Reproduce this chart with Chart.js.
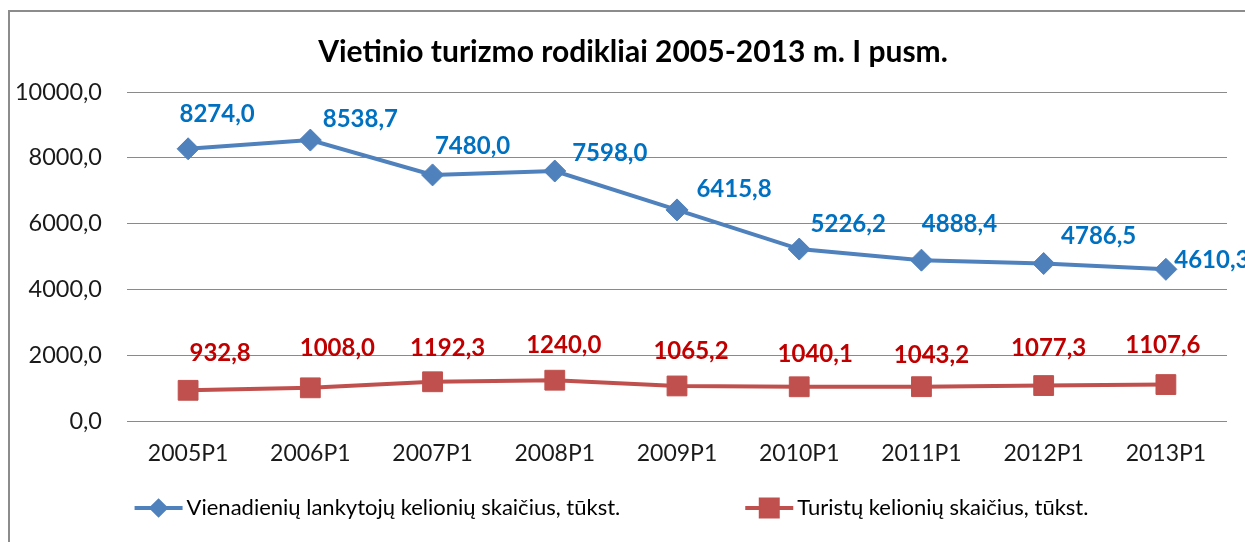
<!DOCTYPE html>
<html>
<head>
<meta charset="utf-8">
<script src="https://cdn.jsdelivr.net/npm/chart.js@4.4.0/dist/chart.umd.min.js"></script>
<style>
  html, body { margin: 0; padding: 0; background: #fff; }
  #chart { display: block; }
</style>
</head>
<body>
<canvas id="chart" width="1245" height="542"></canvas>
<script>
// --- duomenys ---
const chartTitle = "Vietinio turizmo rodikliai 2005-2013 m. I pusm.";
const categories = ["2005P1", "2006P1", "2007P1", "2008P1", "2009P1", "2010P1", "2011P1", "2012P1", "2013P1"];
const seriesNames = ["Vienadienių lankytojų kelionių skaičius, tūkst.", "Turistų kelionių skaičius, tūkst."];
const dayVisitorTrips = [8274.0, 8538.7, 7480.0, 7598.0, 6415.8, 5226.2, 4888.4, 4786.5, 4610.3];
const touristTrips = [932.8, 1008.0, 1192.3, 1240.0, 1065.2, 1040.1, 1043.2, 1077.3, 1107.6];
const yMin = 0, yMax = 10000, yStep = 2000;

// --- stiliai ---
const FONT = "Lato, 'Liberation Sans', sans-serif";
const lineColors = ["#4F81BD", "#C0504D"];
const labelColors = ["#0070C0", "#C00000"];
const markerStyles = ["rectRot", "rect"];
const markerRadius = [11, 14];
// etikečių poslinkis nuo taško (dx, dy) - kaip Excel'yje
const labelShift = [
  [[29, -35], [50, -21], [40, -29], [55, -18], [57, -21], [49, -25], [38, -36], [55, -27], [46, -9]],
  [[32, -37], [27, -40], [15, -34], [9, -35], [14, -35], [16, -33], [10, -31], [5, -37], [-3, -39]]
];

const fmt = v => v.toFixed(1).replace(".", ",");

const framePlugin = {
  id: "frame",
  beforeDraw(chart) {
    const ctx = chart.ctx;
    ctx.save();
    ctx.fillStyle = "#fff";
    ctx.fillRect(0, 0, chart.width, chart.height);
    ctx.strokeStyle = "#8c8c8c";
    ctx.lineWidth = 2;
    ctx.strokeRect(9, 11, chart.width + 20, chart.height + 20);
    ctx.restore();
  },
  afterDraw(chart) {
    const ctx = chart.ctx;
    ctx.save();
    // pavadinimas
    ctx.fillStyle = "#000";
    ctx.font = "bold 30px " + FONT;
    ctx.textAlign = "center";
    ctx.textBaseline = "middle";
    ctx.fillText(chartTitle, 633, 52);

    // legenda
    ctx.font = "22px " + FONT;
    ctx.textAlign = "left";
    const lineLen = 48, gapText = 4, gapItems = 125, ly = 508;
    const widths = chart.data.datasets.map(d => lineLen + gapText + ctx.measureText(d.label).width);
    const total = widths.reduce((a, b) => a + b, 0) + gapItems;
    let x = chart.width / 2 - total / 2 - 11;
    chart.data.datasets.forEach((d, i) => {
      ctx.strokeStyle = d.borderColor;
      ctx.lineWidth = 4;
      ctx.beginPath();
      ctx.moveTo(x, ly);
      ctx.lineTo(x + lineLen, ly);
      ctx.stroke();
      Chart.helpers.drawPoint(ctx, {
        pointStyle: d.pointStyle, radius: i === 0 ? 7 : 12, borderWidth: 1, rotation: 0
      }, x + lineLen / 2, ly);
      ctx.fillStyle = d.borderColor;
      ctx.fill();
      ctx.fillStyle = "#000";
      ctx.textBaseline = "middle";
      ctx.fillText(d.label, x + lineLen + gapText, ly);
      x += widths[i] + gapItems;
    });
    ctx.restore();
  }
};

const dataLabelPlugin = {
  id: "dataLabels",
  afterDatasetsDraw(chart) {
    const ctx = chart.ctx;
    ctx.save();
    ctx.font = "bold 24px " + FONT;
    ctx.textAlign = "center";
    ctx.textBaseline = "middle";
    chart.data.datasets.forEach((d, di) => {
      const meta = chart.getDatasetMeta(di);
      ctx.fillStyle = labelColors[di];
      meta.data.forEach((pt, i) => {
        const s = labelShift[di][i];
        ctx.fillText(fmt(d.data[i]), pt.x + s[0], pt.y + s[1]);
      });
    });
    ctx.restore();
  }
};

const mkDataset = (label, data, i) => ({
  label: label,
  data: data,
  borderColor: lineColors[i],
  backgroundColor: lineColors[i],
  borderWidth: 4,
  pointStyle: markerStyles[i],
  pointRadius: markerRadius[i],
  pointHoverRadius: markerRadius[i],
  pointBackgroundColor: lineColors[i],
  pointBorderColor: lineColors[i],
  pointBorderWidth: 1,
  tension: 0
});

new Chart(document.getElementById("chart"), {
  type: "line",
  data: {
    labels: categories,
    datasets: [
      mkDataset(seriesNames[0], dayVisitorTrips, 0),
      mkDataset(seriesNames[1], touristTrips, 1)
    ]
  },
  options: {
    responsive: false,
    animation: false,
    layout: { padding: { left: 10, right: 18, top: 92, bottom: 61 } },
    plugins: {
      legend: { display: false },
      title: { display: false },
      tooltip: { enabled: false }
    },
    scales: {
      x: {
        offset: true,
        grid: { display: false, drawTicks: false },
        border: { display: false },
        ticks: { color: "#1a1a1a", font: { family: FONT, size: 23 }, padding: 19, maxRotation: 0 },
        afterFit(scale) { scale.height = 60; }
      },
      y: {
        min: yMin,
        max: yMax,
        grid: { color: "#8a8a8a", lineWidth: 1, drawTicks: false },
        border: { display: false },
        ticks: {
          stepSize: yStep,
          color: "#1a1a1a",
          font: { family: FONT, size: 23.5 },
          padding: 25,
          callback: v => fmt(v)
        },
        afterFit(scale) { scale.width = 117; }
      }
    }
  },
  plugins: [framePlugin, dataLabelPlugin]
});
</script>
</body>
</html>
